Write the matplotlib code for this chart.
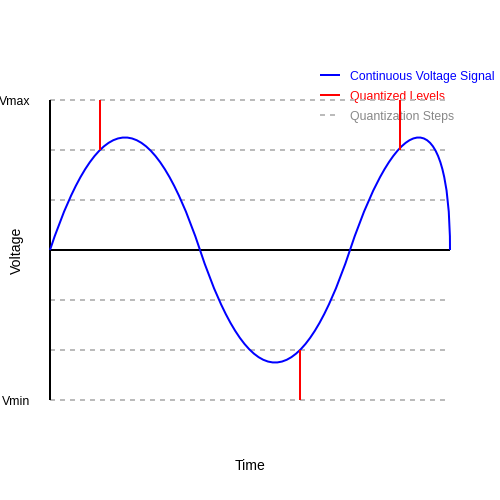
import matplotlib
matplotlib.use("Agg")
import matplotlib.pyplot as plt
from matplotlib.path import Path
from matplotlib.patches import PathPatch

plt.rcParams['font.family'] = ['Liberation Sans', 'DejaVu Sans']

# quantization step levels (units of one step)
levels = [3, 2, 1, -1, -2, -3]
level_labels = ['Vmax', 'Vmin']

# signal as cubic bezier control points (time, voltage)
ctrl_t = [0, 1, 2, 3, 4, 5, 6, 7, 8, 8]
ctrl_v = [0, 3, 3, 0, -3, -3, 0, 3, 3, 0]

# quantized samples: from signal value up/down to the level
sample_t = [1, 5, 7]
sample_v = [2, -2, 2]
quant_v = [3, -3, 3]

legend_names = ['Continuous Voltage Signal', 'Quantized Levels', 'Quantization Steps']
legend_colors = ['blue', 'red', '#999999']
legend_text_colors = ['blue', 'red', '#888888']

fig = plt.figure(figsize=(5, 5), dpi=100)
ax = fig.add_axes([0, 0, 1, 1])
ax.set_xlim(-1, 9)
ax.set_ylim(-5, 5)
ax.axis('off')

fs = 8.8
fs_axis = 10.08
lw = 1.44

# legend
for i, (name, c, tc) in enumerate(zip(legend_names, legend_colors, legend_text_colors)):
    y = 3.5 - 0.4 * i
    if i == 2:
        ax.plot([5.4, 5.8], [y, y], color='#bbbbbb', lw=lw, linestyle=(0, (2.5, 2.5)), zorder=1)
    else:
        ax.plot([5.4, 5.8], [y, y], color=c, lw=lw, solid_capstyle='butt', zorder=1)
    ax.text(6.0, y - 0.1, name, color=tc, fontsize=fs, va='baseline', ha='left', zorder=1)

# quantization step lines
for lv in levels:
    ax.plot([0, 8], [lv, lv], color='#bbbbbb', lw=lw, linestyle=(0, (2.5, 2.5)), zorder=2)

# axes
ax.plot([0, 0], [-3, 3], color='black', lw=lw, solid_capstyle='butt', zorder=3)
ax.plot([0, 8], [0, 0], color='black', lw=lw, solid_capstyle='butt', zorder=3)

# continuous signal
verts = list(zip(ctrl_t, ctrl_v))
codes = [Path.MOVETO] + [Path.CURVE4] * (len(verts) - 1)
ax.add_patch(PathPatch(Path(verts, codes), facecolor='none', edgecolor='blue', lw=lw, zorder=4))

# quantized levels
ax.vlines(sample_t, sample_v, quant_v, colors='red', lw=lw, zorder=5)

# labels
ax.text(-0.4, 2.9, level_labels[0], fontsize=fs, ha='right', va='baseline')
ax.text(-0.4, -3.1, level_labels[1], fontsize=fs, ha='right', va='baseline')
ax.text(-0.66, 0, 'Voltage', fontsize=fs_axis, rotation=90, ha='center', va='center')
ax.text(4, -4.4, 'Time', fontsize=fs_axis, ha='center', va='baseline')

fig.savefig('out.png', dpi=100)
